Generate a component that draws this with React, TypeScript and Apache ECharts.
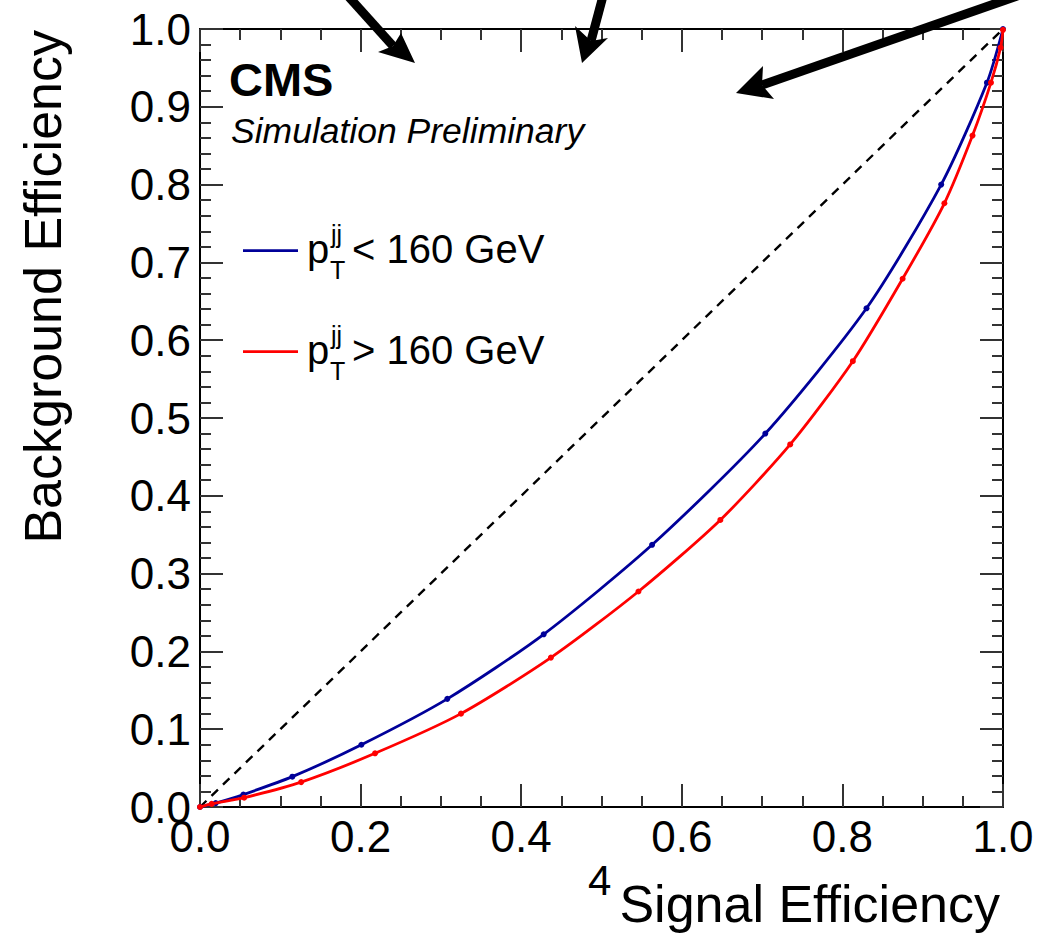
import React, { useEffect, useRef } from "react";
import * as echarts from "echarts";

// Signal / background efficiencies
const sigLow = [0, 0.0196, 0.054, 0.115, 0.201, 0.308, 0.428, 0.563, 0.704, 0.83, 0.923, 0.98, 1.0];
const bkgLow = [0, 0.005, 0.016, 0.039, 0.08, 0.139, 0.222, 0.337, 0.48, 0.641, 0.8, 0.931, 1.0];
const sigHigh = [0, 0.0145, 0.055, 0.126, 0.218, 0.325, 0.437, 0.546, 0.648, 0.735, 0.813, 0.875, 0.927, 0.962, 0.985, 0.997, 1.0];
const bkgHigh = [0, 0.004, 0.012, 0.032, 0.069, 0.12, 0.192, 0.277, 0.369, 0.466, 0.573, 0.679, 0.776, 0.863, 0.931, 0.976, 0.999];
const diagX = [0, 1];
const diagY = [0, 1];

const legendLabels = ["< 160 GeV", "> 160 GeV"];
const xTitle = "Signal Efficiency";
const yTitle = "Background Efficiency";

const FONT = "'Liberation Sans', Arial, Helvetica, sans-serif";
const BLUE = "#000099";
const RED = "#ff0000";

function pairs(xs: number[], ys: number[]) {
  return xs.map((x, i) => [x, ys[i]]);
}

function arrow(start: number[], tip: number[], c1: number[], c2: number[], notch: number[]) {
  return [
    {
      type: "line",
      shape: { x1: start[0], y1: start[1], x2: notch[0], y2: notch[1] },
      style: { stroke: "#000", lineWidth: 9 },
      z: 100,
    },
    {
      type: "polygon",
      shape: { points: [c1, tip, c2, notch] },
      style: { fill: "#000" },
      z: 100,
    },
  ];
}

export default function App() {
  const ref = useRef<HTMLDivElement>(null);

  useEffect(() => {
    if (!ref.current) return;
    const chart = echarts.init(ref.current, null, { renderer: "svg" });

    const baseX = {
      type: "value",
      min: 0,
      max: 1,
      interval: 0.2,
      splitLine: { show: false },
      axisLine: { show: true, onZero: false, lineStyle: { color: "#000", width: 2 } },
      axisTick: { show: true, inside: true, length: 23, lineStyle: { color: "#333", width: 2 } },
      minorTick: { show: true, splitNumber: 4, length: 11, lineStyle: { color: "#333", width: 2 } },
      minorSplitLine: { show: false },
    };
    const baseY = {
      type: "value",
      min: 0,
      max: 1,
      interval: 0.1,
      splitLine: { show: false },
      axisLine: { show: true, onZero: false, lineStyle: { color: "#000", width: 2 } },
      axisTick: { show: true, inside: true, length: 23, lineStyle: { color: "#333", width: 2 } },
      minorTick: { show: true, splitNumber: 5, length: 11, lineStyle: { color: "#333", width: 2 } },
      minorSplitLine: { show: false },
    };

    const legendRows = [
      { color: BLUE, y: 250.7, label: legendLabels[0] },
      { color: RED, y: 351.7, label: legendLabels[1] },
    ];
    const legendGraphics: any[] = [];
    legendRows.forEach((r) => {
      legendGraphics.push({
        type: "line",
        shape: { x1: 243, y1: r.y, x2: 298, y2: r.y },
        style: { stroke: r.color, lineWidth: 2.8 },
      });
      legendGraphics.push({
        type: "text",
        x: 307,
        y: r.y - 2,
        style: { text: "p", font: `40px ${FONT}`, fill: "#000", align: "left", verticalAlign: "middle" },
      });
      legendGraphics.push({
        type: "text",
        x: 331,
        y: r.y - 17,
        style: { text: "jj", font: `25px ${FONT}`, fill: "#000", align: "left", verticalAlign: "middle" },
      });
      legendGraphics.push({
        type: "text",
        x: 330,
        y: r.y + 19,
        style: { text: "T", font: `25px ${FONT}`, fill: "#000", align: "left", verticalAlign: "middle" },
      });
      legendGraphics.push({
        type: "text",
        x: 352,
        y: r.y - 2,
        style: { text: r.label, font: `40px ${FONT}`, fill: "#000", align: "left", verticalAlign: "middle" },
      });
    });

    const option: any = {
      animation: false,
      backgroundColor: "#fff",
      grid: { left: 200, right: 34, top: 29, bottom: 130, containLabel: false },
      xAxis: [
        {
          ...baseX,
          position: "bottom",
          axisLabel: {
            show: true,
            margin: 7,
            color: "#000",
            fontSize: 44,
            fontFamily: FONT,
            formatter: (v: number) => v.toFixed(1),
          },
        },
        { ...baseX, position: "top", axisLabel: { show: false } },
      ],
      yAxis: [
        {
          ...baseY,
          position: "left",
          axisLabel: {
            show: true,
            margin: 9,
            color: "#000",
            fontSize: 44,
            fontFamily: FONT,
            formatter: (v: number) => v.toFixed(1),
          },
        },
        { ...baseY, position: "right", axisLabel: { show: false } },
      ],
      series: [
        {
          type: "line",
          data: pairs(diagX, diagY),
          xAxisIndex: 0,
          yAxisIndex: 0,
          symbol: "none",
          lineStyle: { color: "#000", width: 2.4, type: [9, 7] },
          z: 1,
        },
        {
          type: "line",
          data: pairs(sigLow, bkgLow),
          xAxisIndex: 0,
          yAxisIndex: 0,
          smooth: 0.25,
          symbol: "circle",
          symbolSize: 6,
          itemStyle: { color: BLUE },
          lineStyle: { color: BLUE, width: 2.8 },
          z: 3,
        },
        {
          type: "line",
          data: pairs(sigHigh, bkgHigh),
          xAxisIndex: 0,
          yAxisIndex: 0,
          smooth: 0.25,
          symbol: "circle",
          symbolSize: 6,
          itemStyle: { color: RED },
          lineStyle: { color: RED, width: 2.8 },
          z: 4,
        },
      ],
      graphic: [
        {
          type: "text",
          x: 229,
          y: 79,
          style: { text: "CMS", font: `bold 47px ${FONT}`, fill: "#000", align: "left", verticalAlign: "middle" },
        },
        {
          type: "text",
          x: 231,
          y: 131,
          style: {
            text: "Simulation Preliminary",
            font: `italic 35.5px ${FONT}`,
            fill: "#000",
            align: "left",
            verticalAlign: "middle",
          },
        },
        {
          type: "text",
          x: 1000,
          y: 904,
          style: { text: xTitle, font: `52px ${FONT}`, fill: "#000", align: "right", verticalAlign: "middle" },
        },
        {
          type: "text",
          x: 588,
          y: 880,
          style: { text: "4", font: `42px ${FONT}`, fill: "#000", align: "left", verticalAlign: "middle" },
        },
        {
          type: "text",
          x: 43,
          y: 30,
          rotation: Math.PI / 2,
          style: { text: yTitle, font: `52px ${FONT}`, fill: "#000", align: "right", verticalAlign: "middle" },
        },
        ...legendGraphics,
        ...arrow([348, -4], [415, 63], [378, 52], [401, 33], [393, 46]),
        ...arrow([603, -4], [582, 63], [575, 26], [608, 38], [591, 41]),
        ...arrow([1040, -12], [736, 93], [763, 66], [774, 99], [762, 85]),
      ],
    };

    chart.setOption(option);
    return () => chart.dispose();
  }, []);

  return (
    <div
      ref={ref}
      style={{ position: "fixed", left: 0, top: 0, width: 1037, height: 937, background: "#fff" }}
    />
  );
}
